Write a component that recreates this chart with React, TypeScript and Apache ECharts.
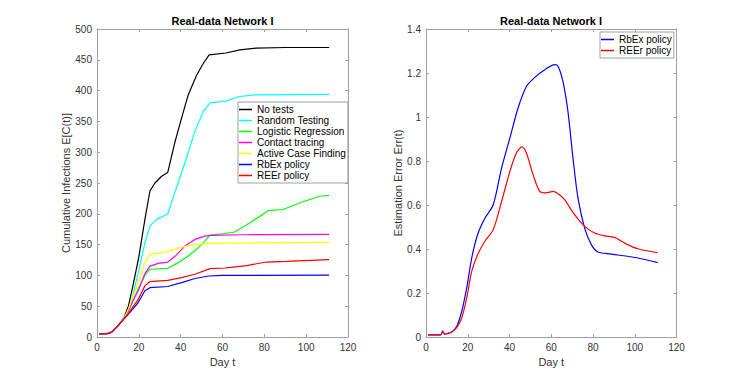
import React, { useEffect, useRef } from 'react';
import * as echarts from 'echarts';

const FONT = 'Liberation Sans';

// ---- Left plot: cumulative infections ----
const noTests = [[1,5],[5,5.5],[7,8],[10,18],[13,32],[15,50],[17,80],[20,130],[23,193],[25.3,237],[27.7,250],[30.9,261],[33.8,267],[37.3,317],[40.4,355],[43.6,393],[47.6,425],[50.8,444],[53.6,458],[61.6,461],[68.3,466],[76,469],[90,470],[111,470]];
const randomTesting = [[1,5],[5,5.5],[7,8],[10,18],[13,31],[15,42],[17,65],[19.7,104],[22.9,153],[25.3,180],[28.5,191],[33.8,200],[42.8,291],[46.8,334],[50.8,366],[54,380],[61.6,383],[67.5,390],[75,393],[111,394]];
const logisticRegression = [[1,5],[5,5.5],[7,8],[10,18],[13,31],[15,42],[17,57],[19.7,78],[22.9,100],[25.3,110],[33.8,111.5],[38.9,120.7],[43.6,131.4],[48.4,145],[51.6,155.7],[54,165.4],[61.1,168],[65.5,170],[73,185],[81.8,205],[89,207],[97,218],[106.5,228.5],[111,230]];
const contactTracing = [[1,5],[5,5.5],[7,8],[10,18],[13,31],[15,42],[17,58],[19.7,75],[22.9,103],[25.3,115],[29.3,119.6],[33.8,121.7],[37.3,131],[42,147.6],[46.8,158.4],[51.6,163.8],[54,165],[70,166],[111,166.5]];
const activeCaseFinding = [[1,5],[5,5.5],[7,8],[10,18],[13,31],[15,45],[17,64],[19.7,88],[22.9,121],[25.3,134],[33.8,138.5],[40.4,146],[46.8,150],[54,152],[66,152.5],[111,153.5]];
const rbexLeft = [[1,5],[5,5.5],[7,8],[10,18],[13,30],[15,37],[17,45],[19.7,56],[22.9,75],[25.3,80],[33.8,82],[40.4,88.3],[46.8,95],[53.4,99],[60,100],[111,100.5]];
const reerLeft = [[1,5],[5,5.5],[7,8],[10,18],[13,30],[15,38],[17,48],[19.7,61],[22.9,83],[25.3,90],[33.8,92],[40.4,96.4],[46.8,101.8],[54,111],[61.1,112],[64,113],[71.6,116],[81,121.7],[90.6,122.8],[111,125.5]];

// ---- Right plot: estimation error ----
const rbexErr = [[1,0.01],[7,0.01],[8,0.025],[9,0.013],[10,0.015],[12.3,0.023],[14.7,0.048],[17.1,0.116],[19.5,0.223],[21.9,0.359],[24.7,0.465],[28.2,0.54],[32.2,0.601],[36.2,0.768],[40.2,0.905],[44.1,1.041],[48.1,1.139],[52.1,1.18],[56.9,1.215],[61.7,1.238],[63.3,1.23],[65.6,1.162],[68,1.025],[70.4,0.814],[72.8,0.632],[76,0.495],[79.2,0.42],[82.4,0.386],[88.8,0.377],[101.5,0.359],[111,0.338]];
const reerErr = [[1,0.01],[7,0.01],[8,0.028],[9,0.013],[10,0.015],[12.3,0.023],[14.7,0.042],[17.1,0.086],[19.5,0.177],[21.9,0.298],[24.7,0.374],[28.2,0.435],[32.2,0.488],[36.2,0.616],[40.2,0.753],[43.3,0.836],[46,0.864],[48.1,0.836],[51.3,0.738],[54.5,0.662],[57.5,0.655],[60.9,0.662],[64.9,0.639],[66.4,0.624],[71.2,0.556],[76,0.503],[80.8,0.473],[85.6,0.46],[90.3,0.453],[95.1,0.427],[101.5,0.401],[111,0.383]];

const leftNames = ['No tests', 'Random Testing', 'Logistic Regression', 'Contact tracing', 'Active Case Finding', 'RbEx policy', 'REEr policy'];
const leftColors = ['#000000', '#00ffff', '#00ff00', '#ff00ff', '#ffff00', '#0000ff', '#ff0000'];
const leftData = [noTests, randomTesting, logisticRegression, contactTracing, activeCaseFinding, rbexLeft, reerLeft];
const rightNames = ['RbEx policy', 'REEr policy'];
const rightColors = ['#0000ff', '#ff0000'];
const rightData = [rbexErr, reerErr];

const titleText = 'Real-data Network I';
const xName = 'Day t';
const leftYName = 'Cumulative Infections E[C(t)]';
const rightYName = 'Estimation Error Err(t)';

const AXIS_COLOR = '#a0a0a0';
const LABEL_COLOR = '#333333';

function makeX(gridIndex: number, top: boolean) {
  return {
    type: 'value', gridIndex, min: 0, max: 120, interval: 20,
    position: top ? 'top' : 'bottom',
    axisLine: { show: true, onZero: false, lineStyle: { color: AXIS_COLOR, width: 1 } },
    axisTick: { show: true, inside: true, length: 3, lineStyle: { color: AXIS_COLOR } },
    axisLabel: { show: !top, color: LABEL_COLOR, fontSize: 10, fontFamily: FONT, margin: 5 },
    splitLine: { show: false },
    name: top ? '' : xName, nameLocation: 'middle', nameGap: 16,
    nameTextStyle: { color: LABEL_COLOR, fontSize: 11, fontFamily: FONT },
  };
}
function makeY(gridIndex: number, right: boolean, max: number, interval: number, name: string, gap: number) {
  return {
    type: 'value', gridIndex, min: 0, max, interval,
    position: right ? 'right' : 'left',
    axisLine: { show: true, onZero: false, lineStyle: { color: AXIS_COLOR, width: 1 } },
    axisTick: { show: true, inside: true, length: 3, lineStyle: { color: AXIS_COLOR } },
    axisLabel: { show: !right, color: LABEL_COLOR, fontSize: 10, fontFamily: FONT, margin: 5 },
    splitLine: { show: false },
    name: right ? '' : name, nameLocation: 'middle', nameGap: gap,
    nameTextStyle: { color: LABEL_COLOR, fontSize: 11, fontFamily: FONT },
  };
}

export default function App() {
  const ref = useRef<HTMLDivElement>(null);
  useEffect(() => {
    if (!ref.current) return;
    const chart = echarts.init(ref.current, null, { renderer: 'svg' });
    const series: any[] = [];
    leftData.forEach((d, i) => series.push({
      type: 'line', name: leftNames[i], data: d, xAxisIndex: 0, yAxisIndex: 0,
      showSymbol: false, symbol: 'none', color: leftColors[i],
      lineStyle: { width: 1.2, color: leftColors[i] }, emphasis: { disabled: true },
    }));
    rightData.forEach((d, i) => series.push({
      type: 'line', name: rightNames[i], data: d, xAxisIndex: 2, yAxisIndex: 2,
      showSymbol: false, symbol: 'none', color: rightColors[i], smooth: 0.3,
      lineStyle: { width: 1.2, color: rightColors[i] }, emphasis: { disabled: true },
    }));
    const legendCommon = {
      orient: 'vertical', itemGap: 0, icon: 'rect', itemHeight: 1.5,
      backgroundColor: '#ffffff', borderColor: '#a0a0a0', borderWidth: 1,
      textStyle: { fontSize: 10, fontFamily: FONT, color: '#000', lineHeight: 11 },
      selectedMode: false,
    };
    chart.setOption({
      animation: false,
      backgroundColor: '#ffffff',
      grid: [
        { left: 97, top: 29, width: 251, height: 308 },
        { left: 426, top: 29, width: 250.5, height: 308 },
      ],
      xAxis: [makeX(0, false), makeX(0, true), makeX(1, false), makeX(1, true)],
      yAxis: [
        makeY(0, false, 500, 50, leftYName, 17),
        makeY(0, true, 500, 50, '', 0),
        makeY(1, false, 1.4, 0.2, rightYName, 14),
        makeY(1, true, 1.4, 0.2, '', 0),
      ],
      legend: [
        { ...legendCommon, data: leftNames, left: 238, top: 102, itemWidth: 13, padding: [2, 2, 2, 1] },
        { ...legendCommon, data: rightNames, left: 600, top: 32, itemWidth: 13, padding: [2, 2, 2, 1] },
      ],
      graphic: [
        { type: 'text', x: 222.5, y: 21, style: { text: titleText, fontSize: 11, fontWeight: 'bold', fontFamily: FONT, fill: '#000', align: 'center', verticalAlign: 'middle' } },
        { type: 'text', x: 551, y: 21, style: { text: titleText, fontSize: 11, fontWeight: 'bold', fontFamily: FONT, fill: '#000', align: 'center', verticalAlign: 'middle' } },
      ],
      series,
    });
    return () => chart.dispose();
  }, []);
  return <div ref={ref} style={{ position: 'fixed', left: 0, top: 0, width: 747, height: 380, background: '#fff' }} />;
}
